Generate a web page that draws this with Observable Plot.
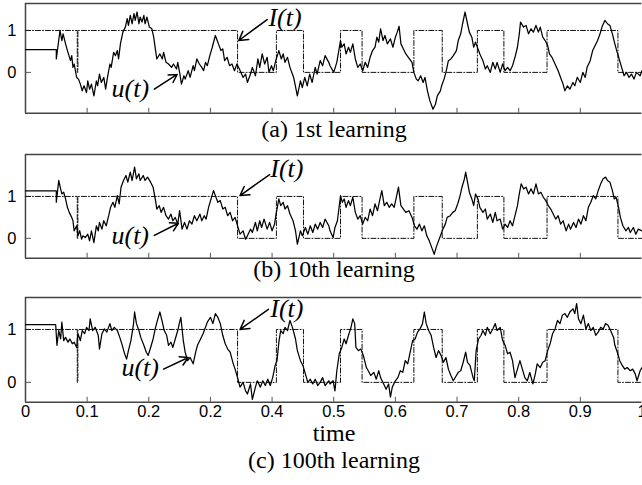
<!DOCTYPE html>
<html>
<head>
<meta charset="utf-8">
<script src="https://cdn.jsdelivr.net/npm/d3@7"></script>
<script src="https://cdn.jsdelivr.net/npm/@observablehq/plot@0.6"></script>
<style>
html,body{margin:0;padding:0;overflow:hidden;background:#fff;}
#root{position:relative;width:642px;height:485px;overflow:hidden;}
.panel{position:absolute;left:0;}
.cap{position:absolute;left:0;width:668px;text-align:center;font-family:"Liberation Serif","Times New Roman",serif;font-size:24px;line-height:24px;color:#000;white-space:nowrap;}
</style>
</head>
<body>
<div id="root">
  <div class="panel" id="pa" style="top:0px"></div>
  <div class="cap" style="top:117px">(a) 1st learning</div>
  <div class="panel" id="pb" style="top:150px"></div>
  <div class="cap" style="top:257px">(b) 10th learning</div>
  <div class="panel" id="pc" style="top:293px"></div>
  <div class="cap" style="top:421px">time</div>
  <div class="cap" style="top:448px">(c) 100th learning</div>
</div>
<script>
// ---- data ----
const xTickValues = [0, 0.1, 0.2, 0.3, 0.4, 0.5, 0.6, 0.7, 0.8, 0.9, 1];
const xTickLabels = ["0", "0.1", "0.2", "0.2", "0.4", "0.5", "0.6", "0.7", "0.8", "0.9", "1"];
const yTickValues = [0, 1];

// target input I(t): change times and levels (step after)
const iTime  = [0, 0.084, 0.085, 0.344, 0.407, 0.451, 0.511, 0.546, 0.630, 0.676, 0.733, 0.776, 0.846, 0.961, 1];
const iLevel = [1, 0, 1, 0, 1, 0, 1, 0, 1, 0, 1, 0, 1, 0, 0];

// output u(t): [time, value]
const uA = [[0,0.54],[0.050,0.54],[0.050,0.32],[0.056,1.00],[0.059,0.76],[0.061,0.92],[0.065,0.68],[0.068,0.52],[0.073,0.28],[0.075,0.40],[0.077,0.12],[0.079,0.20],[0.083,-0.12],[0.086,-0.16],[0.089,-0.28],[0.092,-0.44],[0.095,-0.32],[0.099,-0.48],[0.101,-0.20],[0.104,-0.40],[0.107,-0.28],[0.111,-0.56],[0.115,-0.20],[0.117,-0.32],[0.120,-0.04],[0.123,-0.24],[0.127,-0.12],[0.130,-0.40],[0.133,-0.12],[0.137,0.20],[0.139,0.12],[0.143,0.48],[0.146,0.40],[0.149,0.52],[0.151,0.32],[0.154,0.68],[0.158,0.96],[0.162,1.08],[0.165,1.28],[0.167,1.12],[0.170,1.36],[0.173,1.16],[0.176,1.40],[0.178,1.24],[0.181,1.44],[0.184,1.16],[0.186,1.32],[0.189,1.20],[0.192,1.36],[0.194,1.16],[0.197,1.32],[0.201,1.08],[0.205,1.04],[0.208,0.84],[0.211,0.52],[0.213,0.32],[0.218,0.44],[0.222,0.32],[0.224,0.48],[0.228,0.24],[0.232,0.20],[0.237,0.12],[0.240,0.20],[0.245,0.08],[0.247,0.24],[0.250,0.00],[0.253,-0.28],[0.257,-0.08],[0.259,-0.16],[0.264,0.04],[0.267,-0.12],[0.272,0.16],[0.274,0.04],[0.278,0.32],[0.282,0.20],[0.286,0.12],[0.289,0.04],[0.292,0.24],[0.295,0.16],[0.299,0.40],[0.303,0.60],[0.308,0.88],[0.311,0.76],[0.313,0.68],[0.317,0.52],[0.320,0.56],[0.323,0.28],[0.327,0.36],[0.331,0.16],[0.335,0.20],[0.339,0.04],[0.343,0.20],[0.347,0.08],[0.353,-0.12],[0.357,-0.04],[0.360,-0.24],[0.365,-0.04],[0.368,0.12],[0.373,-0.08],[0.377,0.32],[0.380,0.12],[0.384,0.44],[0.388,0.20],[0.392,0.36],[0.395,0.00],[0.399,0.16],[0.402,0.04],[0.406,0.28],[0.411,0.52],[0.415,0.32],[0.418,0.44],[0.421,0.24],[0.425,0.36],[0.429,0.12],[0.435,-0.12],[0.441,-0.56],[0.446,-0.20],[0.449,-0.36],[0.453,-0.12],[0.457,-0.32],[0.461,-0.04],[0.465,-0.24],[0.470,0.12],[0.473,-0.04],[0.478,0.28],[0.482,0.16],[0.486,0.40],[0.492,0.24],[0.494,0.16],[0.500,0.00],[0.505,0.24],[0.511,0.76],[0.513,0.60],[0.517,0.68],[0.520,0.44],[0.524,0.60],[0.527,0.48],[0.531,0.68],[0.535,0.32],[0.539,0.12],[0.543,0.20],[0.547,0.04],[0.551,0.24],[0.555,0.12],[0.559,0.36],[0.563,0.52],[0.567,0.60],[0.570,0.84],[0.573,0.72],[0.576,1.04],[0.580,0.76],[0.583,0.88],[0.587,0.68],[0.592,0.80],[0.596,0.60],[0.600,0.84],[0.603,0.96],[0.606,1.10],[0.609,0.68],[0.613,0.56],[0.617,0.44],[0.621,0.36],[0.627,0.24],[0.630,0.00],[0.634,-0.16],[0.637,-0.20],[0.641,-0.08],[0.645,-0.24],[0.648,-0.12],[0.652,-0.44],[0.656,-0.68],[0.661,-0.88],[0.665,-0.76],[0.668,-0.56],[0.673,-0.44],[0.675,-0.32],[0.679,-0.16],[0.682,0.00],[0.686,0.28],[0.690,0.32],[0.694,0.40],[0.699,0.52],[0.702,0.76],[0.706,0.92],[0.709,1.16],[0.713,1.44],[0.717,1.16],[0.720,0.96],[0.724,0.84],[0.727,0.60],[0.730,0.72],[0.735,0.52],[0.737,0.44],[0.742,0.28],[0.746,0.08],[0.749,0.16],[0.754,0.00],[0.758,0.24],[0.762,0.08],[0.765,0.24],[0.770,0.00],[0.774,0.20],[0.778,0.04],[0.782,0.12],[0.786,0.04],[0.790,0.16],[0.794,0.36],[0.798,0.60],[0.801,0.92],[0.803,1.20],[0.808,1.08],[0.812,1.12],[0.816,0.92],[0.820,1.04],[0.824,0.96],[0.828,1.12],[0.832,0.96],[0.835,1.08],[0.839,0.84],[0.843,0.76],[0.847,0.64],[0.850,0.44],[0.854,0.36],[0.859,0.20],[0.864,0.04],[0.868,-0.12],[0.872,-0.28],[0.875,-0.44],[0.879,-0.32],[0.883,-0.40],[0.888,-0.24],[0.891,-0.32],[0.895,-0.12],[0.900,-0.24],[0.904,0.00],[0.908,-0.12],[0.911,0.12],[0.916,0.28],[0.920,0.52],[0.924,0.64],[0.928,0.76],[0.932,0.92],[0.936,1.12],[0.940,1.24],[0.944,1.16],[0.948,1.12],[0.952,0.92],[0.956,0.68],[0.959,0.52],[0.963,0.32],[0.967,0.12],[0.971,-0.08],[0.975,0.00],[0.979,-0.12],[0.983,-0.04],[0.987,-0.16],[0.991,0.00],[0.997,-0.08],[1.000,0.04]];

const uB = [[0,1.13],[0.050,1.13],[0.050,0.86],[0.054,1.38],[0.057,1.18],[0.059,1.06],[0.062,1.10],[0.065,0.94],[0.068,0.74],[0.071,0.62],[0.075,0.50],[0.077,0.42],[0.079,0.18],[0.083,0.30],[0.085,0.06],[0.088,0.18],[0.091,-0.02],[0.093,0.06],[0.097,0.02],[0.101,0.10],[0.104,-0.06],[0.107,0.18],[0.111,-0.10],[0.115,0.30],[0.118,0.18],[0.120,0.38],[0.124,0.22],[0.127,0.42],[0.131,0.30],[0.135,0.54],[0.138,0.74],[0.142,0.86],[0.145,0.74],[0.149,1.02],[0.152,0.82],[0.155,1.22],[0.159,1.38],[0.163,1.50],[0.166,1.34],[0.170,1.58],[0.173,1.38],[0.177,1.70],[0.180,1.42],[0.184,1.54],[0.186,1.38],[0.191,1.50],[0.194,1.38],[0.198,1.46],[0.203,1.34],[0.207,1.22],[0.211,0.90],[0.213,0.70],[0.217,0.78],[0.220,0.62],[0.224,0.74],[0.228,0.54],[0.232,0.46],[0.236,0.58],[0.239,0.42],[0.243,0.50],[0.247,0.34],[0.250,0.66],[0.254,0.22],[0.258,0.38],[0.262,0.22],[0.266,0.42],[0.270,0.34],[0.274,0.54],[0.278,0.42],[0.283,0.58],[0.286,0.42],[0.290,0.54],[0.293,0.46],[0.297,0.74],[0.301,0.94],[0.305,1.14],[0.308,1.02],[0.312,0.86],[0.316,0.90],[0.320,0.70],[0.324,0.74],[0.328,0.54],[0.332,0.62],[0.336,0.42],[0.340,0.50],[0.344,0.30],[0.348,0.10],[0.353,0.18],[0.357,-0.02],[0.360,0.06],[0.365,0.22],[0.368,0.14],[0.373,0.38],[0.376,0.18],[0.380,0.42],[0.383,0.26],[0.387,0.46],[0.392,0.22],[0.396,0.38],[0.400,0.18],[0.404,0.34],[0.407,0.62],[0.411,0.94],[0.414,0.78],[0.418,0.86],[0.421,0.70],[0.425,0.78],[0.429,0.58],[0.434,0.42],[0.438,0.18],[0.441,-0.14],[0.446,0.18],[0.449,0.06],[0.454,0.26],[0.458,0.10],[0.462,0.30],[0.466,0.14],[0.470,0.34],[0.474,0.22],[0.478,0.38],[0.482,0.26],[0.486,0.46],[0.492,0.30],[0.494,0.18],[0.499,0.02],[0.502,0.26],[0.506,0.42],[0.511,1.02],[0.514,0.86],[0.517,0.94],[0.520,0.74],[0.524,0.90],[0.527,0.78],[0.531,0.98],[0.535,0.62],[0.539,0.46],[0.543,0.54],[0.547,0.34],[0.551,0.50],[0.555,0.42],[0.559,0.70],[0.563,0.54],[0.567,0.82],[0.571,0.66],[0.575,0.94],[0.578,1.14],[0.582,0.78],[0.586,0.86],[0.590,0.74],[0.594,0.82],[0.598,0.74],[0.601,0.94],[0.605,1.22],[0.609,0.78],[0.613,0.70],[0.617,0.62],[0.622,0.66],[0.627,0.50],[0.631,0.30],[0.635,0.22],[0.639,0.34],[0.643,0.18],[0.647,0.30],[0.651,0.06],[0.655,-0.06],[0.659,-0.22],[0.663,-0.38],[0.666,-0.22],[0.670,-0.06],[0.674,0.10],[0.677,0.22],[0.681,0.34],[0.684,0.50],[0.689,0.54],[0.693,0.62],[0.697,0.66],[0.701,0.82],[0.705,1.02],[0.708,1.22],[0.712,1.42],[0.714,1.58],[0.717,1.34],[0.720,1.10],[0.724,0.94],[0.727,0.78],[0.730,1.06],[0.734,0.94],[0.737,0.74],[0.742,0.62],[0.746,0.70],[0.749,0.46],[0.754,0.58],[0.758,0.38],[0.762,0.62],[0.765,0.42],[0.770,0.46],[0.774,0.22],[0.778,0.34],[0.782,0.26],[0.786,0.42],[0.790,0.30],[0.794,0.54],[0.798,0.78],[0.801,1.06],[0.804,1.30],[0.808,1.18],[0.812,1.22],[0.816,1.06],[0.820,1.18],[0.824,1.06],[0.828,1.30],[0.832,1.06],[0.836,1.10],[0.840,0.98],[0.844,0.90],[0.848,0.78],[0.852,0.70],[0.856,0.58],[0.860,0.46],[0.864,0.54],[0.868,0.34],[0.872,0.42],[0.877,0.18],[0.881,0.34],[0.884,0.22],[0.889,0.38],[0.893,0.26],[0.897,0.46],[0.901,0.34],[0.905,0.54],[0.909,0.42],[0.913,0.74],[0.917,0.86],[0.921,1.02],[0.925,0.94],[0.929,1.14],[0.933,1.30],[0.937,1.42],[0.941,1.46],[0.944,1.38],[0.948,1.34],[0.952,1.14],[0.955,0.94],[0.958,0.98],[0.962,0.74],[0.965,0.50],[0.969,0.30],[0.974,0.18],[0.978,0.26],[0.981,0.14],[0.986,0.26],[0.990,0.10],[0.994,0.22],[1.000,0.18]];

const uC = [[0,1.09],[0.049,1.09],[0.051,0.70],[0.054,0.98],[0.057,0.82],[0.059,1.14],[0.062,0.79],[0.065,0.85],[0.069,0.76],[0.072,0.82],[0.076,0.73],[0.079,0.76],[0.083,0.66],[0.085,0.92],[0.089,0.79],[0.092,0.98],[0.096,0.92],[0.099,1.04],[0.103,0.98],[0.105,1.20],[0.109,0.98],[0.113,1.04],[0.118,0.89],[0.120,0.63],[0.124,0.92],[0.128,1.01],[0.132,0.95],[0.137,1.11],[0.140,0.98],[0.144,1.04],[0.149,0.98],[0.153,0.85],[0.157,0.70],[0.160,0.57],[0.164,0.44],[0.167,0.60],[0.171,0.79],[0.175,1.08],[0.177,1.33],[0.180,1.11],[0.184,0.98],[0.187,0.85],[0.192,0.70],[0.196,0.57],[0.199,0.51],[0.203,0.66],[0.207,0.82],[0.211,1.04],[0.214,1.17],[0.218,1.33],[0.222,1.14],[0.225,0.98],[0.229,0.89],[0.232,0.70],[0.236,0.76],[0.239,0.66],[0.243,0.82],[0.247,0.98],[0.250,1.14],[0.252,1.23],[0.256,0.79],[0.259,0.57],[0.263,0.41],[0.267,0.47],[0.272,0.35],[0.276,0.57],[0.279,0.70],[0.284,0.82],[0.288,0.92],[0.292,1.04],[0.295,1.14],[0.300,1.23],[0.304,1.11],[0.308,1.30],[0.312,1.23],[0.316,1.11],[0.320,0.89],[0.324,0.73],[0.328,0.63],[0.332,0.57],[0.337,0.35],[0.340,0.25],[0.344,0.09],[0.348,-0.09],[0.353,0.00],[0.357,-0.16],[0.360,-0.22],[0.365,-0.03],[0.368,-0.32],[0.373,-0.09],[0.376,0.03],[0.381,-0.09],[0.385,0.03],[0.389,-0.06],[0.393,0.06],[0.397,-0.06],[0.401,0.09],[0.405,0.32],[0.408,0.41],[0.411,0.76],[0.414,0.98],[0.418,0.92],[0.421,1.04],[0.425,0.98],[0.429,1.17],[0.433,1.04],[0.438,0.82],[0.441,0.60],[0.446,0.41],[0.450,0.32],[0.454,0.16],[0.458,0.00],[0.462,0.06],[0.466,-0.03],[0.470,0.06],[0.474,-0.06],[0.478,0.00],[0.482,0.09],[0.486,-0.06],[0.492,0.03],[0.494,-0.03],[0.499,0.03],[0.502,-0.16],[0.505,0.22],[0.509,0.54],[0.513,0.66],[0.517,0.82],[0.520,0.73],[0.524,0.89],[0.528,1.04],[0.531,1.20],[0.534,1.11],[0.536,0.66],[0.540,0.60],[0.544,0.63],[0.548,0.51],[0.553,0.28],[0.556,0.22],[0.560,0.13],[0.565,0.19],[0.569,0.06],[0.573,0.22],[0.576,0.09],[0.581,-0.03],[0.585,-0.13],[0.589,-0.03],[0.592,-0.28],[0.595,-0.09],[0.600,0.03],[0.604,0.09],[0.608,0.22],[0.612,0.19],[0.616,0.41],[0.620,0.35],[0.624,0.57],[0.628,0.79],[0.632,0.82],[0.636,0.95],[0.640,1.01],[0.644,1.11],[0.647,1.33],[0.650,1.11],[0.654,0.98],[0.658,0.89],[0.662,0.66],[0.666,0.47],[0.670,0.60],[0.674,0.51],[0.678,0.38],[0.682,0.47],[0.686,0.25],[0.690,0.13],[0.694,0.03],[0.699,0.13],[0.702,0.19],[0.706,0.22],[0.710,0.38],[0.714,0.57],[0.717,0.38],[0.721,0.32],[0.726,0.09],[0.728,0.03],[0.731,0.60],[0.735,0.82],[0.739,0.89],[0.742,0.98],[0.746,0.89],[0.749,1.04],[0.754,0.92],[0.758,1.01],[0.762,1.11],[0.765,0.98],[0.770,1.04],[0.774,0.79],[0.778,0.70],[0.782,0.54],[0.786,0.57],[0.790,0.41],[0.794,0.09],[0.798,0.25],[0.802,0.41],[0.806,0.25],[0.810,0.09],[0.814,0.03],[0.818,0.19],[0.823,-0.03],[0.827,0.16],[0.830,0.35],[0.835,0.28],[0.839,0.38],[0.843,0.41],[0.847,0.60],[0.851,0.73],[0.855,0.92],[0.859,1.01],[0.863,1.17],[0.867,1.11],[0.871,1.27],[0.875,1.30],[0.879,1.23],[0.883,1.33],[0.888,1.39],[0.891,1.30],[0.894,1.49],[0.897,1.20],[0.901,1.11],[0.905,1.27],[0.909,1.01],[0.913,1.11],[0.917,0.98],[0.921,1.04],[0.925,0.89],[0.929,0.95],[0.933,1.04],[0.937,1.01],[0.941,1.11],[0.945,1.08],[0.949,0.98],[0.954,0.85],[0.956,0.70],[0.960,0.57],[0.964,0.41],[0.968,0.32],[0.972,0.25],[0.976,0.28],[0.981,0.22],[0.985,0.25],[0.989,0.16],[0.992,0.03],[0.997,0.22],[1.000,0.28]];

// annotations: label text, label positions [t, value], arrows [t1, v1, t2, v2]
const annotLabels = ["I(t)", "u(t)"];
const labelPosA = [[0.421, 1.31], [0.170, -0.38]];
const arrowA = [[0.392, 1.26, 0.346, 0.76], [0.209, -0.40, 0.246, -0.05]];
const labelPosB = [[0.424, 1.66], [0.170, 0.07]];
const arrowB = [[0.396, 1.52, 0.348, 1.02], [0.209, 0.07, 0.248, 0.36]];
const labelPosC = [[0.424, 1.40], [0.186, 0.28]];
const arrowC = [[0.394, 1.38, 0.348, 1.00], [0.224, 0.25, 0.264, 0.47]];

// ---- drawing ----
const W = 643, ML = 25, MR = 0.5;
const iRows = iTime.map((t, i) => ({t, v: iLevel[i]}));

function panel({series, yDomain, height, marginTop, marginBottom, labelPos, arrows, showX}) {
  const rows = series.map(([t, u]) => ({t, u}));
  const labels = labelPos.map(([t, v], i) => ({t, v, text: annotLabels[i]}));
  const arr = arrows.map(([t1, v1, t2, v2]) => ({t1, v1, t2, v2}));
  const plotH = height - marginTop - marginBottom;
  const plotW = W - ML - MR;
  return Plot.plot({
    width: W, height, marginLeft: ML, marginRight: MR, marginTop, marginBottom,
    style: {fontFamily: "'Liberation Sans', Arial, sans-serif", fontSize: "16.5px", color: "#000", background: "transparent", overflow: "visible"},
    x: {domain: [0, 1], ticks: xTickValues, tickFormat: d => xTickLabels[xTickValues.indexOf(d)], tickSize: 0, tickPadding: 3, label: null, axis: showX ? "bottom" : null},
    y: {domain: yDomain, ticks: yTickValues, tickFormat: d => String(d), tickSize: 0, tickPadding: 9, label: null},
    marks: [
      Plot.ruleX([0], {stroke: "#444", strokeWidth: 1.5}),
      Plot.ruleY([yDomain[0], yDomain[1]], {stroke: "#444", strokeWidth: 1.5}),
      Plot.ruleX(xTickValues.slice(1, -1), {stroke: "#555", strokeWidth: 1, insetTop: plotH - 5}),
      Plot.ruleY(yTickValues, {stroke: "#555", strokeWidth: 1, insetRight: plotW - 6}),
      Plot.line(iRows, {x: "t", y: "v", curve: "step-after", stroke: "#111", strokeWidth: 1, strokeDasharray: "5,2,1,2"}),
      Plot.line(rows, {x: "t", y: "u", stroke: "#000", strokeWidth: 1.25}),
      Plot.arrow(arr, {x1: "t1", y1: "v1", x2: "t2", y2: "v2", stroke: "#000", strokeWidth: 1.5, headLength: 10}),
      Plot.text(labels, {x: "t", y: "v", text: "text", fontFamily: "'Liberation Serif', 'Times New Roman', serif", fontStyle: "italic", fontSize: 26, fill: "#000"})
    ]
  });
}

document.getElementById("pa").append(panel({series: uA, yDomain: [-0.976, 1.643], height: 114, marginTop: 3, marginBottom: 1, labelPos: labelPosA, arrows: arrowA, showX: false}));
document.getElementById("pb").append(panel({series: uB, yDomain: [-0.476, 2.0], height: 109, marginTop: 4, marginBottom: 1, labelPos: labelPosB, arrows: arrowB, showX: false}));
document.getElementById("pc").append(panel({series: uC, yDomain: [-0.377, 1.604], height: 134, marginTop: 4, marginBottom: 25, labelPos: labelPosC, arrows: arrowC, showX: true}));
</script>
</body>
</html>
